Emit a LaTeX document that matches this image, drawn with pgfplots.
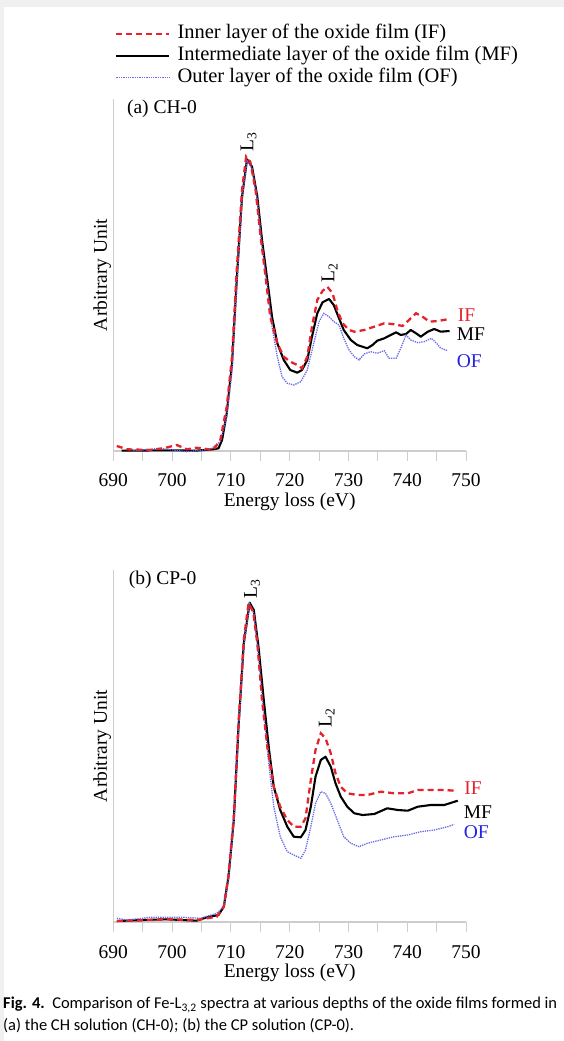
\documentclass[border=0pt]{standalone}
\usepackage{fontspec}
\setmainfont{Liberation Serif}
\newfontfamily\capfont{Carlito}
\usepackage{pgfplots}
\pgfplotsset{compat=1.18}

\definecolor{ifred}{RGB}{228,35,45}
\definecolor{ofblue}{RGB}{105,105,235}
\definecolor{oftext}{RGB}{35,35,225}
\definecolor{axgray}{RGB}{205,205,205}
\definecolor{edgegray}{RGB}{240,240,240}

\newcommand{\fs}{\fontsize{19.5}{22}\selectfont}

\pgfplotsset{
  ifstyle/.style={color=ifred, dash pattern=on 6pt off 4pt, line width=2.3pt},
  mfstyle/.style={color=black, line width=2.1pt, line join=round},
  ofstyle/.style={color=ofblue, densely dotted, line width=1.3pt},
  myaxis/.style={
    scale only axis, width=352.7pt, height=352pt,
    xmin=690, xmax=750, ymin=0, ymax=352,
    axis lines=left,
    axis line style={-, axgray, line width=1.2pt},
    xtick={690,700,...,750}, minor x tick num=1, ytick=\empty,
    tick align=outside, major tick length=10pt, minor tick length=10pt,
    every tick/.style={axgray, line width=1pt},
    /pgf/number format/assume math mode=true,
    /pgf/number format/set thousands separator={},
    xticklabel style={font=\fs, yshift=-9.5pt},
    xlabel={Energy loss (eV)}, ylabel={Arbitrary Unit},
    label style={font=\fs},
    xlabel style={yshift=1pt},
    ylabel style={at={(axis description cs:-0.018,0.5)}, anchor=base, inner sep=0pt},
    clip=false,
  }
}

\begin{document}
\begin{tikzpicture}
\path[use as bounding box] (0,0) rectangle (564pt,1041pt);
\fill[edgegray] (0,1034pt) rectangle (564pt,1041pt);
\fill[edgegray] (0,0) rectangle (4pt,1041pt);

% ---------------- (a) CH-0
\begin{axis}[myaxis, at={(113.3pt,590pt)}, anchor=south west,
  legend style={at={(axis description cs:0,1)}, anchor=south west, xshift=1.7pt, yshift=12pt,
    draw=none, fill=none, inner sep=0pt, font=\fontsize{20.5}{23}\selectfont, row sep=4pt,
    nodes={inner sep=0pt, text height=14pt, text depth=4pt},
    /tikz/every odd column/.append style={column sep=7pt}},
  legend cell align=left,
  legend image code/.code={\draw[#1] (0pt,0pt) -- (53pt,0pt);},
]
\addlegendimage{ifstyle}\addlegendentry{Inner layer of the oxide film (IF)}
\addlegendimage{mfstyle}\addlegendentry{Intermediate layer of the oxide film (MF)}
\addlegendimage{ofstyle}\addlegendentry{Outer layer of the oxide film (OF)}

\addplot[mfstyle, forget plot] coordinates {
(691.4,0.3) (695,0.5) (700,0.7) (704,0.3) (707,1.7) (707.9,2.7) (708.5,11) (709.3,37.7)
(710.2,87.7) (711,171) (711.9,254) (712.75,291.7) (713.6,284.3) (714.5,254.3) (715.3,211)
(716.2,171) (717,134.3) (717.9,107.7) (719,91) (720.1,81) (721.3,78.3) (722.1,81) (723,91)
(723.8,114.3) (724.7,137.7) (725.6,148.7) (726.7,152) (727.5,146) (728.4,132.7) (729.2,121)
(730.4,111) (731.5,106) (733.2,102.7) (734.1,106) (734.9,110.3) (736.1,112.7) (737.2,116)
(738.1,118.7) (738.9,116) (739.8,117) (740.6,121) (741.5,117.7) (742.3,114.3) (743.5,119.3)
(744.6,122) (745.7,119.3) (747.2,120)
};
\addplot[ofstyle, forget plot] coordinates {
(693.4,0.3) (698,2.7) (702.5,-0.7) (706.5,1.7) (708.2,9.3) (709.3,34.3) (710.2,81) (711,164.3)
(711.9,251) (712.75,290.3) (713.6,282.7) (714.5,251) (715.3,204.3) (716.2,164.3) (717,124.3)
(717.9,94.3) (718.7,74.3) (719.6,67.7) (720.7,66) (721.9,69.3) (723,81) (724.1,107.7) (725,129.3)
(725.8,137.7) (726.7,134.3) (727.5,129.3) (728.4,126) (729.2,112.7) (730.1,101) (731,94.3)
(731.8,91) (732.7,97) (733.8,99.3) (734.9,97.7) (736.1,100.3) (736.9,92.7) (738.1,92.7)
(738.9,102.7) (739.8,116) (740.6,111) (741.8,108.3) (742.9,109.3) (744.1,112.7) (745,107.7)
(745.7,102.7) (746.9,100.3)
};
\addplot[ifstyle, forget plot] coordinates {
(690.6,5) (692.3,1.7) (696.3,1) (698.5,2.7) (700.8,6) (702.5,1.7) (704.2,3.3) (707,1) (708.2,11)
(709.3,44.3) (710.2,94.3) (711,181) (711.9,261) (712.6,294.3) (713.3,289.3) (714.2,261)
(715,217.7) (715.9,174.3) (716.7,134.3) (717.9,107.7) (719,94.3) (720.1,89.3) (721.3,86)
(722.1,82.7) (723,94.3) (723.8,124.3) (724.7,151) (725.6,160) (726.4,164.3) (727.3,157.7)
(728.1,141) (729,127.7) (730.1,121) (731,119.3) (732.7,121) (734.4,124.3) (736.1,127.7)
(737.8,126.7) (739.2,125) (740.3,131) (741.5,137.7) (742.6,134.3) (743.8,129.3) (745.2,130)
(746.9,131.7)
};
\node[anchor=west, font=\fs, inner sep=0pt] at (axis cs:692.3,342) {(a) CH-0};
\node[rotate=90, anchor=west, font=\fs, inner sep=0pt] at (axis cs:713.0,299) {L\textsubscript{3}};
\node[rotate=90, anchor=west, font=\fs, inner sep=0pt] at (axis cs:726.8,168) {L\textsubscript{2}};
\node[anchor=west, font=\fs, inner sep=0pt, text=ifred] at (axis cs:748.6,135.5) {IF};
\node[anchor=west, font=\fs, inner sep=0pt] at (axis cs:748.4,117) {MF};
\node[anchor=west, font=\fs, inner sep=0pt, text=oftext] at (axis cs:748.4,90) {OF};
\end{axis}

% ---------------- (b) CP-0
\begin{axis}[myaxis, at={(113.3pt,119pt)}, anchor=south west]
\addplot[mfstyle] coordinates {
(690.6,1) (695.1,2) (699.1,2.7) (704.2,1.3) (705.9,4.7) (707.9,7) (708.8,15.3) (709.6,45.3)
(710.5,102) (711.3,195) (712.2,278.7) (713.2,319.3) (713.9,312) (714.7,275.3) (715.6,222)
(716.5,172) (717.3,135.3) (718.4,112) (719.6,95.3) (720.7,85.3) (721.9,84.7) (722.7,92)
(723.6,115.3) (724.4,145.3) (725.3,162) (726.1,165.3) (727,155.3) (727.8,138.7) (728.7,125.3)
(729.8,115.3) (731,108.7) (732.4,107) (734.4,108) (736.6,113.7) (738.4,112) (740.1,111.3)
(741.8,115.3) (744,117) (746.3,117) (748.6,121.3)
};
\addplot[ofstyle] coordinates {
(690.6,3.7) (692.3,2) (696.3,4.7) (702,4.7) (704.8,3.7) (707.6,8.7) (708.8,15.3) (709.6,43.7)
(710.5,98.7) (711.3,192) (712.2,275.3) (713.2,318) (713.9,308.7) (714.7,265.3) (715.6,208.7)
(716.5,155.3) (717.3,115.3) (718.4,85.3) (719.6,70.3) (720.7,67) (721.9,63.7) (722.7,72)
(723.6,95.3) (724.4,118.7) (725.3,130.3) (726.1,128.7) (727,118.7) (728.1,102) (729.2,85.3)
(730.4,78.7) (731.8,75.3) (733.2,78.7) (735.5,82) (737.8,85.3) (740.1,87) (742.3,90.3)
(744.6,92) (746.9,95.3) (748,97.7)
};
\addplot[ifstyle] coordinates {
(690.6,1) (693.4,1.3) (699.1,2.7) (704.2,2) (707.6,5.3) (708.8,15.3) (709.6,47) (710.5,105)
(711.3,198.7) (712.2,282) (713,318.7) (713.8,310.3) (714.5,278.7) (715.3,222) (716.2,175.3)
(717.3,135.3) (718.4,115.3) (719.6,102) (720.7,95.3) (721.9,95.3) (722.7,103.7) (723.6,142)
(724.4,172) (725.3,188.7) (726.1,183.7) (727,168.7) (727.8,148.7) (728.7,135.3) (729.8,128.7)
(731.5,127) (733.2,127) (735.5,130.3) (737.8,128.7) (740.1,128.7) (741.8,132) (744,132)
(746.3,132) (748,131.3)
};
\node[anchor=west, font=\fs, inner sep=0pt] at (axis cs:692.6,342) {(b) CP-0};
\node[rotate=90, anchor=west, font=\fs, inner sep=0pt] at (axis cs:713.6,323) {L\textsubscript{3}};
\node[rotate=90, anchor=west, font=\fs, inner sep=0pt] at (axis cs:726.3,194) {L\textsubscript{2}};
\node[anchor=west, font=\fs, inner sep=0pt, text=ifred] at (axis cs:749.7,134) {IF};
\node[anchor=west, font=\fs, inner sep=0pt] at (axis cs:749.6,110) {MF};
\node[anchor=west, font=\fs, inner sep=0pt, text=oftext] at (axis cs:749.6,90) {OF};
\end{axis}

% caption
\node[anchor=west, inner sep=0pt, font=\capfont\fontsize{16.5}{19}\selectfont] at (3pt,36pt)
  {\textbf{Fig. 4.}\ \ Comparison of Fe-L\textsubscript{3,2} spectra at various depths of the oxide films formed in};
\node[anchor=west, inner sep=0pt, font=\capfont\fontsize{16.5}{19}\selectfont] at (3pt,15pt)
  {(a) the CH solution (CH-0); (b) the CP solution (CP-0).};
\end{tikzpicture}
\end{document}
